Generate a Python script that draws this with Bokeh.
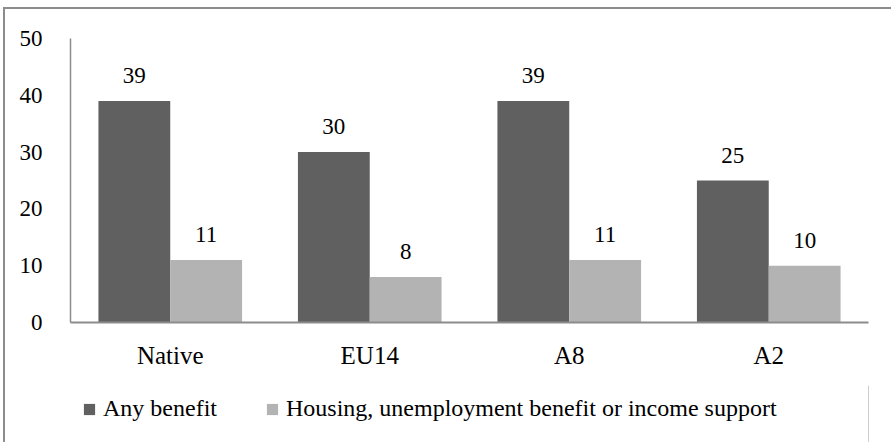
from bokeh.plotting import figure
from bokeh.models import ColumnDataSource, LabelSet, Legend, LegendItem, FactorRange
from bokeh.core.properties import value
from bokeh.layouts import column
from bokeh.transform import dodge
from bokeh.embed import file_html
from bokeh.resources import INLINE

categories = ["Native", "EU14", "A8", "A2"]
any_benefit = [39, 30, 39, 25]
housing_etc = [11, 8, 11, 10]
series_names = ["Any benefit", "Housing, unemployment benefit or income support"]
y_ticks = [0, 10, 20, 30, 40, 50]
colors = ["#606060", "#b3b3b3"]

FONT = "'Liberation Serif', 'DejaVu Serif', serif"
FS_NUM = "23px"
FS_TXT = "25px"
FS_LEG = "24px"

src = ColumnDataSource(dict(cat=categories, a=any_benefit, b=housing_etc,
                            a_lbl=[str(v) for v in any_benefit],
                            b_lbl=[str(v) for v in housing_etc]))

W, H1, H2 = 886, 376, 57
p = figure(x_range=FactorRange(*categories), y_range=(0, 50), width=W, height=H1,
           output_backend="svg", toolbar_location=None,
           min_border_left=65, min_border_right=23, min_border_top=29, min_border_bottom=63)

p.vbar(x=dodge("cat", -0.18, range=p.x_range), top="a", width=0.36, source=src,
       fill_color=colors[0], line_color=None)
p.vbar(x=dodge("cat", 0.18, range=p.x_range), top="b", width=0.36, source=src,
       fill_color=colors[1], line_color=None)

for col, lbl, off in (("a", "a_lbl", -0.18), ("b", "b_lbl", 0.18)):
    ls = LabelSet(x=dodge("cat", off, range=p.x_range), y=col, text=lbl, source=src,
                  text_align="center", text_baseline="alphabetic", y_offset=18,
                  text_font=value(FONT), text_font_size=value(FS_NUM),
                  text_color="#000000")
    p.add_layout(ls)

p.grid.visible = False
p.outline_line_color = None

p.yaxis.ticker = y_ticks
p.yaxis.major_tick_line_color = None
p.yaxis.minor_tick_line_color = None
p.yaxis.axis_line_color = "#8c8c8c"
p.yaxis.axis_line_width = 1.5
p.yaxis.major_label_standoff = 22
p.yaxis.major_label_text_font = FONT
p.yaxis.major_label_text_font_size = FS_NUM
p.yaxis.major_label_text_color = "#000000"

p.xaxis.major_tick_line_color = None
p.xaxis.minor_tick_line_color = None
p.xaxis.axis_line_color = "#8c8c8c"
p.xaxis.axis_line_width = 2
p.xaxis.major_label_standoff = 13
p.xaxis.major_label_text_font = FONT
p.xaxis.major_label_text_font_size = FS_TXT
p.xaxis.major_label_text_color = "#000000"

# legend panel
pl = figure(width=W, height=H2, output_backend="svg", toolbar_location=None,
            min_border=0, x_range=(0, 1), y_range=(0, 1),
            x_axis_location=None, y_axis_location=None)
pl.grid.visible = False
pl.outline_line_color = None
lr1 = pl.vbar(x=[5], top=[1], width=0.1, fill_color=colors[0], line_color=None)
lr2 = pl.vbar(x=[5], top=[1], width=0.1, fill_color=colors[1], line_color=None)

legend = Legend(items=[LegendItem(label=series_names[0], renderers=[lr1]),
                       LegendItem(label=series_names[1], renderers=[lr2])],
                orientation="horizontal", location=(12, 20),
                glyph_width=14, glyph_height=14, label_standoff=7, spacing=48,
                label_text_font=FONT, label_text_font_size=FS_LEG, label_text_color="#000000",
                border_line_color=None, background_fill_alpha=0, margin=0, padding=0)
pl.add_layout(legend)

lay = column(p, pl, spacing=0, margin=(7, 0, 0, 3),
             styles={"border-top": "2px solid #8c8c8c", "border-left": "2px solid #8c8c8c"})

open("out.html", "w").write(file_html(lay, INLINE))
